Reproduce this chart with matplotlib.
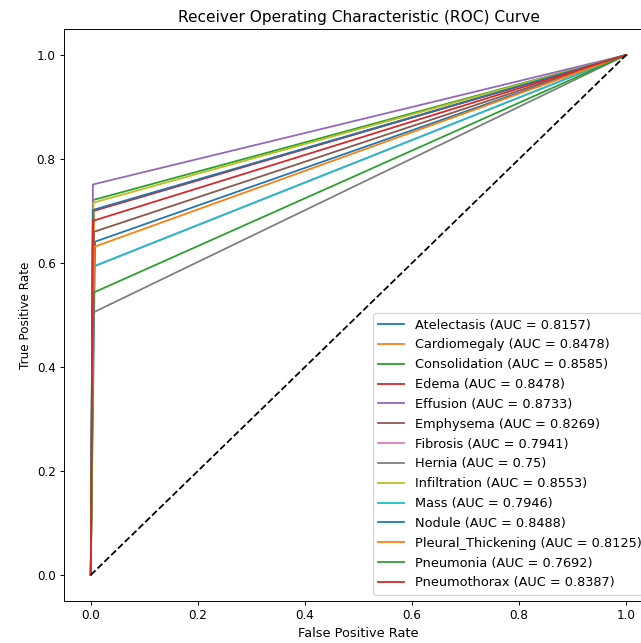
import matplotlib
matplotlib.use('Agg')
import matplotlib.pyplot as plt

# classes, AUC scores and the single operating point of each ROC curve
classes = ["Atelectasis", "Cardiomegaly", "Consolidation", "Edema", "Effusion",
           "Emphysema", "Fibrosis", "Hernia", "Infiltration", "Mass", "Nodule",
           "Pleural_Thickening", "Pneumonia", "Pneumothorax"]
auc = ["0.8157", "0.8478", "0.8585", "0.8478", "0.8733", "0.8269", "0.7941",
       "0.75", "0.8553", "0.7946", "0.8488", "0.8125", "0.7692", "0.8387"]
fpr_mid = [0.008, 0.006, 0.004, 0.005, 0.004, 0.006, 0.005,
           0.005, 0.005, 0.004, 0.004, 0.006, 0.005, 0.004]
tpr_mid = [0.641, 0.702, 0.721, 0.700, 0.751, 0.660, 0.593,
           0.505, 0.716, 0.593, 0.702, 0.631, 0.543, 0.681]

dpi = 86
fig = plt.figure(figsize=(641 / dpi, 643 / dpi), dpi=dpi)
ax = fig.add_axes([64 / 641, 1 - 601 / 643, 589 / 641, 572 / 643])

for name, a, f, t in zip(classes, auc, fpr_mid, tpr_mid):
    ax.plot([0, f, 1], [0, t, 1], label=f"{name} (AUC = {a})")

ax.plot([0, 1], [0, 1], 'k--')
ax.set_xlim(-0.05, 1.05)
ax.set_ylim(-0.05, 1.05)
ax.set_xlabel("False Positive Rate", fontsize=10.8)
ax.set_ylabel("True Positive Rate")
ax.set_title("Receiver Operating Characteristic (ROC) Curve", fontsize=12.9)
ax.legend(loc="lower right", fontsize=10.8, labelspacing=0.53)

fig.savefig("out.png", dpi=dpi)
